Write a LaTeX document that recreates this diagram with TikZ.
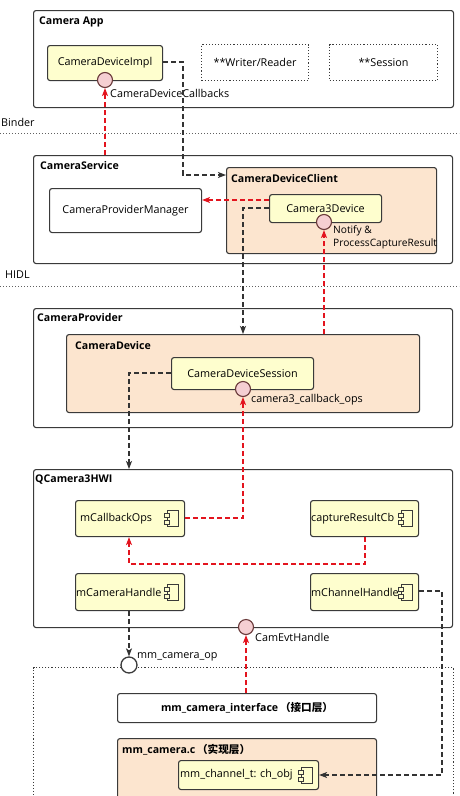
\documentclass[tikz,border=0pt]{standalone}
\usepackage{fontspec}
\setmainfont{Open Sans}
\newfontfamily\cjk{Noto Sans CJK SC}
\usetikzlibrary{arrows.meta,calc}
\definecolor{yfill}{HTML}{FEFECE}
\definecolor{ofill}{HTML}{FCE5CF}
\definecolor{pfill}{HTML}{F5CFD2}
\definecolor{edge}{HTML}{3A3A3A}
\definecolor{cedge}{HTML}{6A3A3A}
\definecolor{rline}{HTML}{E3141E}
\definecolor{kline}{HTML}{333333}
\tikzset{
  base/.style={draw=edge, line width=1.1pt, rounded corners=2.5pt, inner sep=0pt, anchor=north west},
  outerbox/.style={base, fill=white},
  ybox/.style={base, fill=yfill},
  obox/.style={base, fill=ofill},
  wbox/.style={base, fill=white},
  dotbox/.style={draw=edge, line width=1.1pt, dotted, anchor=north west, inner sep=0pt},
  ttl/.style={anchor=north west, inner sep=0pt, font=\fontsize{10.6}{12.5}\selectfont\bfseries},
  lbl/.style={anchor=west, inner sep=0pt, font=\fontsize{10.8}{13}\selectfont},
  btxt/.style={font=\fontsize{10.8}{13}\selectfont},
  iface/.style={circle, draw=cedge, line width=1.1pt, fill=pfill, minimum size=15pt, inner sep=0pt},
  ifacew/.style={circle, draw=edge, line width=1.3pt, fill=white, minimum size=16pt, inner sep=0pt},
  kdash/.style={draw=kline, line width=1.2pt, dash pattern=on 5pt off 3pt, -{Stealth[length=8pt,width=6pt,inset=2pt]}},
  rdash/.style={draw=rline, line width=1.2pt, dash pattern=on 5pt off 3pt, -{Stealth[length=8pt,width=6pt,inset=2pt]}},
  layer/.style={draw=edge!80, line width=1pt, dotted},
}
\newcommand{\compicon}[1]{%
  \draw[edge, line width=1pt, fill=yfill] ($(#1)+(-5,-8)$) rectangle ($(#1)+(6,8)$);
  \draw[edge, line width=1pt, fill=yfill] ($(#1)+(-8,-5)$) rectangle ($(#1)+(-3,-1)$);
  \draw[edge, line width=1pt, fill=yfill] ($(#1)+(-8,2)$) rectangle ($(#1)+(-3,6)$);
}
\begin{document}
\begin{tikzpicture}[x=1pt,y=-1pt]
\useasboundingbox (0,0) rectangle (459,796);
\clip (0,0) rectangle (459,796);
\fill[white] (0,0) rectangle (459,796);

% ---------- Camera App ----------
\node[outerbox, minimum width=420pt, minimum height=97pt] (app) at (33,10) {};
\node[ttl] (appt) at (39,17) {Camera App};
\node[ybox, minimum width=115pt, minimum height=35pt] (impl) at (47,45) {};
\node[btxt] at (impl.center) {CameraDeviceImpl};
\node[dotbox, minimum width=107pt, minimum height=36pt] (wr) at (201,44) {};
\node[btxt] at (wr.center) {**Writer/Reader};
\node[dotbox, minimum width=108pt, minimum height=36pt] (sess) at (329,44) {};
\node[btxt] at (sess.center) {**Session};
\node[iface] (cbk) at (105,80) {};
\node[lbl] (cbkl) at (110,93) {CameraDeviceCallbacks};

% Binder
\node[lbl] (binder) at (1,122) {Binder};
\draw[layer] (0,133) -- (459,133);

% ---------- CameraService ----------
\node[outerbox, minimum width=419pt, minimum height=108pt] (svc) at (33,155) {};
\node[ttl] (svct) at (40,161) {CameraService};
\node[wbox, minimum width=152pt, minimum height=44pt] (cpm) at (49,188) {};
\node[btxt] at (cpm.center) {CameraProviderManager};
\node[obox, minimum width=210pt, minimum height=86pt] (client) at (226,167) {};
\node[ttl] (clientt) at (231,174) {CameraDeviceClient};
\node[ybox, minimum width=112pt, minimum height=28pt] (c3d) at (269,194) {};
\node[btxt] at (c3d.center) {Camera3Device};
\node[iface] (notify) at (324,222) {};
\node[anchor=north west, inner sep=0pt, align=left, font=\fontsize{10.2}{13}\selectfont] (notifyl) at (333,225) {Notify \&\\ProcessCaptureResult};

% HIDL
\node[lbl] (hidl) at (5,275) {HIDL};
\draw[layer] (0,286) -- (459,286);

% ---------- CameraProvider ----------
\node[outerbox, minimum width=419pt, minimum height=119pt] (prov) at (33,308) {};
\node[ttl] (provt) at (37,313) {CameraProvider};
\node[obox, minimum width=353pt, minimum height=78pt] (camdev) at (66,334) {};
\node[ttl] (camdevt) at (75,341) {CameraDevice};
\node[ybox, minimum width=142pt, minimum height=32pt] (cds) at (171,357) {};
\node[btxt] at (cds.center) {CameraDeviceSession};
\node[iface] (c3cb) at (243,389) {};
\node[lbl] (c3cbl) at (251,400) {camera3\_callback\_ops};

% ---------- QCamera3HWI ----------
\node[outerbox, minimum width=419pt, minimum height=158pt] (hwi) at (33,469) {};
\node[ttl] (hwit) at (35,475) {QCamera3HWI};
\node[ybox, minimum width=109pt, minimum height=36pt] (mcb) at (75,500) {};
\node[lbl] at ($(mcb.west)+(5,0)$) {mCallbackOps};
\compicon{$(mcb.east)+(-13,0)$}
\node[ybox, minimum width=108pt, minimum height=36pt] (crcb) at (310,500) {};
\node[lbl] at ($(crcb.west)+(1,0)$) {captureResultCb};
\compicon{$(crcb.east)+(-13,0)$}
\node[ybox, minimum width=109pt, minimum height=37pt] (mch) at (75,573) {};
\node[lbl] at ($(mch.west)+(1,0)$) {mCameraHandle};
\compicon{$(mch.east)+(-13,0)$}
\node[ybox, minimum width=108pt, minimum height=37pt] (mchan) at (310,573) {};
\node[lbl] at ($(mchan.west)+(1,0)$) {mChannelHandle};
\compicon{$(mchan.east)+(-13,0)$}
\node[iface] (evt) at (246,627) {};
\node[lbl] (evtl) at (255,637) {CamEvtHandle};

% ---------- mm-camera ----------
\node[dotbox, minimum width=420pt, minimum height=140pt] (mmouter) at (33,667) {};
\node[ifacew] (mmop) at (129,665) {};
\node[lbl] (mmopl) at (137,657) {mm\_camera\_op};
\node[wbox, minimum width=259pt, minimum height=29pt] (mmi) at (117,693) {};
\node[font=\fontsize{10.6}{12.5}\selectfont\bfseries] at (mmi.center) {mm\_camera\_interface{\cjk\,（接口层）}};
\node[obox, minimum width=259pt, minimum height=70pt] (mmc) at (117,738) {};
\node[ttl] (mmct) at (122,744) {mm\_camera.c{\cjk\,（实现层）}};
\node[ybox, minimum width=140pt, minimum height=29pt] (chobj) at (178,760) {};
\node[lbl] at ($(chobj.west)+(2,0)$) {mm\_channel\_t: ch\_obj};
\compicon{$(chobj.east)+(-13,0)$}

% ---------- connectors ----------
\draw[kdash] (impl.east |- 0,62) -- (183,62) -- (183,175) -- (client.west |- 0,175);
\draw[rdash] (svc.north -| cbk) -- (cbk.south);
\draw[rdash] (c3d.west |- 0,200) -- (cpm.east |- 0,200);
\draw[kdash] (c3d.west |- 0,208) -- (243,208) -- (camdev.north -| 243,0);
\draw[rdash] (camdev.north -| notify) -- (notify.south);
\draw[kdash] (cds.west |- 0,373) -- (129,373) -- (hwi.north -| 129,0);
\draw[rdash] (mcb.east |- 0,518) -- (243,518) -- (c3cb.south);
\draw[rdash] (crcb.south -| 365,0) -- (365,564) -- (129,564) -- (mcb.south -| 129,0);
\draw[kdash] (mch.south -| 129,0) -- (mmop.north);
\draw[rdash] (mmi.north -| evt) -- (evt.south);
\draw[kdash] (mchan.east |- 0,591) -- (442,591) -- (442,775) -- (chobj.east |- 0,775);
\end{tikzpicture}
\end{document}
